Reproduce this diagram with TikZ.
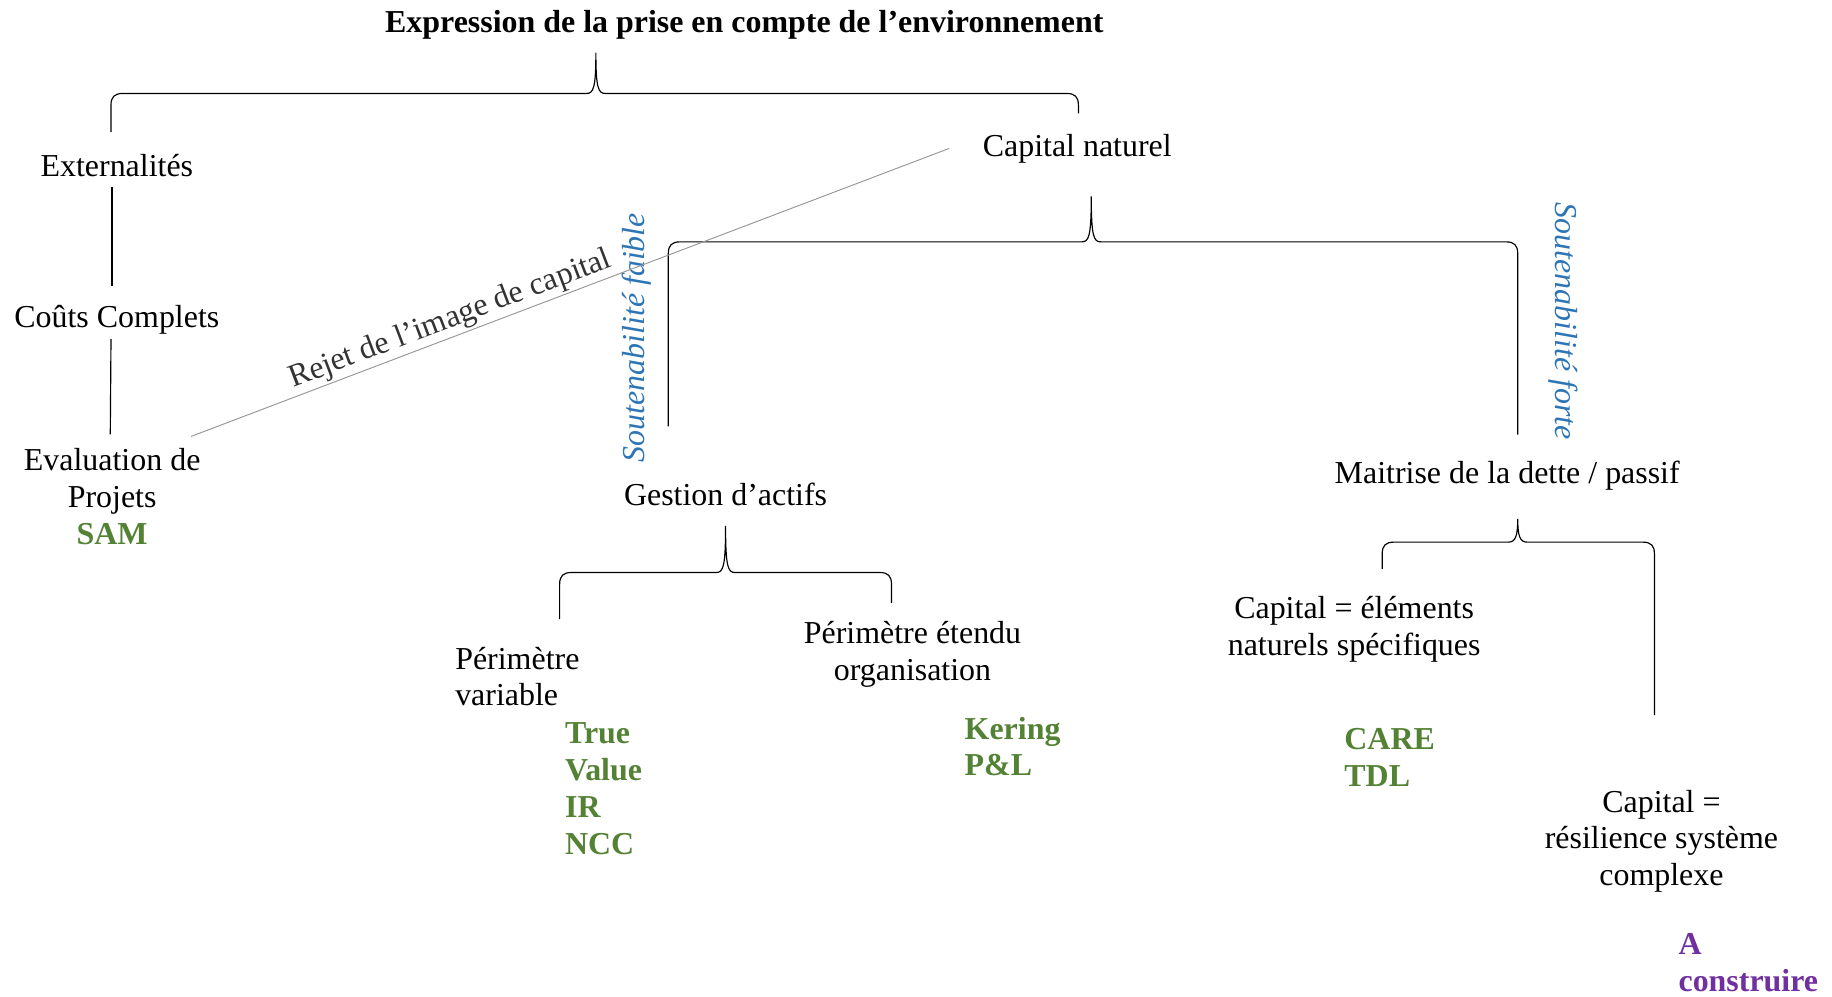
\documentclass[tikz,border=0pt]{standalone}
\usepackage{fontspec}
\setmainfont{Liberation Serif}
\usetikzlibrary{positioning}
\definecolor{vert}{HTML}{548235}
\definecolor{mauve}{HTML}{7030A0}
\definecolor{bleu}{HTML}{2E75B6}
% accolade horizontale : bout gauche, pointe, bout droit, hauteur de la barre
\newcommand{\accolade}[7]{%
 \draw[trait] (#1,#2) -- (#1,#7+10) .. controls (#1,#7+3) and (#1+3,#7) .. (#1+10,#7)
  -- (#3-8,#7) .. controls (#3-2,#7) and (#3,#7-5) .. (#3,#4)
  .. controls (#3,#7-5) and (#3+2,#7) .. (#3+8,#7)
  -- (#5-10,#7) .. controls (#5-3,#7) and (#5,#7+3) .. (#5,#7+10) -- (#5,#6);}

\begin{document}
\begin{tikzpicture}[x=0.6pt,y=-0.6pt,
 every node/.style={font=\fontsize{16.4}{18.9}\selectfont, inner sep=2pt, align=center},
 gras/.style={font=\fontsize{16.4}{18.9}\selectfont\bfseries},
 exemple/.style={font=\fontsize{16.4}{18.9}\selectfont\bfseries, text=vert, align=left, anchor=west},
 soutenab/.style={font=\fontsize{16.4}{18.9}\selectfont\itshape, text=bleu},
 trait/.style={line width=0.6pt}]
 \useasboundingbox (0,0) rectangle (1568,853);

 \node[gras] (titre) at (637,21) {Expression de la prise en compte de l’environnement};
 \node (ext) at (100,142) {Externalités};
 \node (couts) at (100,274) {Coûts Complets};
 \node (eval) at (96,412) {Evaluation de\\Projets};
 \node[gras, text=vert] (sam) at (96,457) {SAM};
 \node (capnat) at (922,127) {Capital naturel};
 \node (gestion) at (621,423) {Gestion d’actifs};
 \node (dette) at (1290,407) {Maitrise de la dette / passif};
 \node[align=left, anchor=west] (perivar) at (386,579) {Périmètre\\variable};
 \node[exemple] (truevalue) at (480,675) {True\\Value\\IR\\NCC};
 \node (perietendu) at (781,560) {Périmètre étendu\\organisation};
 \node[exemple] (kering) at (822,639) {Kering\\P\&L};
 \node (elements) at (1159,538.5) {Capital = éléments\\naturels spécifiques};
 \node[exemple] (care) at (1147,648) {CARE\\TDL};
 \node (resilience) at (1422,720) {Capital =\\résilience système\\complexe};
 \node[exemple, text=mauve] (construire) at (1433,824) {A\\construire};

 \node[soutenab, rotate=90] (faible) at (545,289) {Soutenabilité faible};
 \node[soutenab, rotate=-90] (forte) at (1338,275) {Soutenabilité forte};

 \accolade{95}{113}{510}{45}{923}{97}{80}
 \accolade{572}{365}{934}{168}{1299}{372}{207}
 \accolade{479}{530}{621}{450}{763}{516}{490}
 \accolade{1183}{487}{1299}{444}{1416}{612}{464}

 \draw[trait, shorten <=3pt, shorten >=8pt] ([xshift=-2.5pt]ext.south) -- ([xshift=-2.5pt]couts.north);
 \draw[trait, shorten >=5pt] ([xshift=-3pt]couts.south) -- ([xshift=-1pt]eval.north);
 \draw[gray!80, line width=0.5pt] ([shift={(-7pt,4pt)}]eval.north east) --
  node[pos=0.35, sloped, above, inner sep=1pt, text=black!80] (rejet) {Rejet de l’image de capital}
  ([xshift=-15pt]capnat.west);
\end{tikzpicture}
\end{document}
